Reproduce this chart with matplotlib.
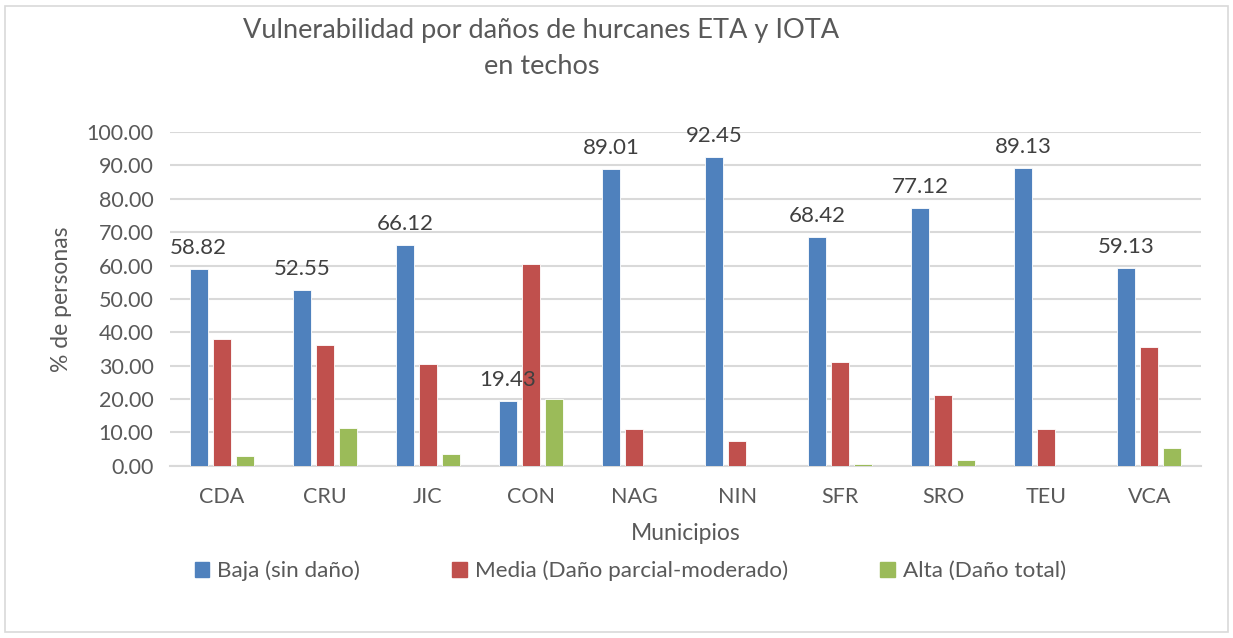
import matplotlib.pyplot as plt
import matplotlib.patches as mpatches
import numpy as np

# data
municipios = ['CDA', 'CRU', 'JIC', 'CON', 'NAG', 'NIN', 'SFR', 'SRO', 'TEU', 'VCA']
baja = [58.82, 52.55, 66.12, 19.43, 89.01, 92.45, 68.42, 77.12, 89.13, 59.13]
media = [38.1, 36.1, 30.5, 60.5, 11.0, 7.55, 31.05, 21.2, 10.87, 35.65]
alta = [2.9, 11.3, 3.4, 20.0, 0.0, 0.0, 0.5, 1.7, 0.0, 5.2]
series_names = ['Baja (sin daño)', 'Media (Daño parcial-moderado)', 'Alta (Daño total)']

colors = ['#4F81BD', '#C0504D', '#9BBB59']
txt = '#595959'

plt.rcParams['font.family'] = ['Lato', 'DejaVu Sans']

fig = plt.figure(figsize=(12.33, 6.38), dpi=100)
ax = fig.add_axes([0.138, 0.270, 0.836, 0.523])

x = np.arange(len(municipios))
w = 0.175
off = 0.223
for i, vals in enumerate([baja, media, alta]):
    ax.bar(x + (i - 1) * off, vals, width=w, color=colors[i],
           edgecolor='white', linewidth=0.6, zorder=3, label=series_names[i])

# data labels only on the Baja series
for xi, v in zip(x, baja):
    ax.text(xi - off, v + 3.3, f'{v:.2f}', ha='center', va='bottom',
            fontsize=16, color='#404040', zorder=4)

ax.set_xlim(-0.5, len(municipios) - 0.5)
ax.set_ylim(0, 100)
ax.set_yticks(np.arange(0, 101, 10))
ax.set_yticklabels([f'{t:.2f}' for t in np.arange(0, 101, 10)])
ax.set_xticks(x)
ax.set_xticklabels(municipios)
ax.tick_params(axis='both', length=0, labelsize=15.5, labelcolor=txt)
ax.tick_params(axis='x', pad=15)
ax.tick_params(axis='y', pad=12)
ax.yaxis.grid(True, color='#D9D9D9', linewidth=1.5, zorder=0)
for s in ['top', 'right', 'left']:
    ax.spines[s].set_visible(False)
ax.spines['bottom'].set_color('#D9D9D9')
ax.spines['bottom'].set_linewidth(1.5)

ax.set_xlabel('Municipios', fontsize=16.5, color=txt, labelpad=12)
ax.set_ylabel('% de personas', fontsize=16.5, color=txt, labelpad=10)

fig.text(0.439, 0.952, 'Vulnerabilidad por daños de hurcanes ETA y IOTA',
         ha='center', va='center', fontsize=19.5, color=txt)
fig.text(0.439, 0.895, 'en techos', ha='center', va='center', fontsize=19.5, color=txt)

handles = [mpatches.Patch(color=c) for c in colors]
fig.legend(handles, series_names, loc='center', bbox_to_anchor=(0.511, 0.105),
           ncol=3, frameon=False, fontsize=16.2, labelcolor=txt,
           handlelength=0.65, handleheight=0.65, handletextpad=0.35, columnspacing=4.1)

# outer chart border
fig.patches.append(mpatches.Rectangle((5 / 1233, 6 / 638), 1223 / 1233, 626 / 638,
                                      transform=fig.transFigure, fill=False,
                                      edgecolor='#D9D9D9', linewidth=1.2))

fig.savefig('out.png', dpi=100)
